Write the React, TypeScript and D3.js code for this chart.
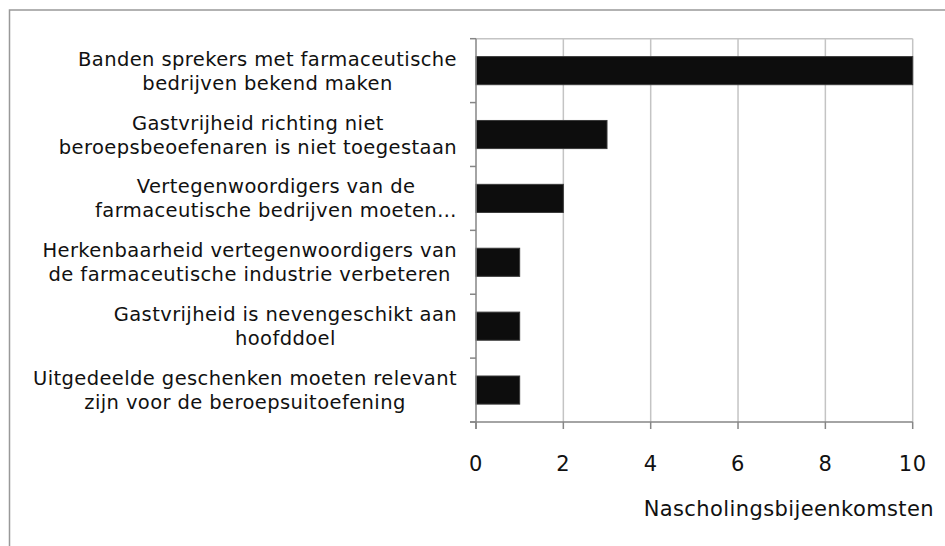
import React, { useEffect, useRef } from "react";
import * as d3 from "d3";

const categories: string[][] = [
  ["Banden sprekers met farmaceutische", "bedrijven bekend maken"],
  ["Gastvrijheid richting niet", "beroepsbeoefenaren is niet toegestaan"],
  ["Vertegenwoordigers van de", "farmaceutische bedrijven moeten…"],
  ["Herkenbaarheid vertegenwoordigers van", "de farmaceutische industrie verbeteren"],
  ["Gastvrijheid is nevengeschikt aan", "hoofddoel"],
  ["Uitgedeelde geschenken moeten relevant", "zijn voor de beroepsuitoefening"],
];
const values: number[] = [10, 3, 2, 1, 1, 1];
const xTicks: number[] = [0, 2, 4, 6, 8, 10];
const xTitle = "Nascholingsbijeenkomsten";

const W = 945;
const H = 546;
const FONT = "'DejaVu Sans', Verdana, sans-serif";

export default function App() {
  const ref = useRef<SVGSVGElement>(null);

  useEffect(() => {
    const svg = d3.select(ref.current);
    svg.selectAll("*").remove();

    const left = 476, right = 912.7, top = 38.7, bottom = 422;
    const x = d3.scaleLinear().domain([0, 10]).range([left, right]);
    const keys = categories.map((_, i) => String(i));
    const y = d3.scaleBand<string>().domain(keys).range([top, bottom]).paddingInner(0.56).paddingOuter(0.28);
    const step = y.step();

    // outer border
    svg.append("rect").attr("x", 9.5).attr("y", 10).attr("width", 1200).attr("height", 1200)
      .attr("fill", "white").attr("stroke", "#999").attr("stroke-width", 1.5);

    // top border of plot area
    svg.append("line").attr("x1", left).attr("x2", right).attr("y1", top).attr("y2", top)
      .attr("stroke", "#c4c4c4").attr("stroke-width", 1.5);

    // gridlines
    svg.selectAll(".grid").data(xTicks.filter(t => t > 0)).enter().append("line")
      .attr("x1", d => x(d)).attr("x2", d => x(d)).attr("y1", top).attr("y2", bottom)
      .attr("stroke", "#c4c4c4").attr("stroke-width", 1.5);

    // bars
    svg.selectAll(".bar").data(values).enter().append("rect")
      .attr("x", x(0)).attr("y", (_, i) => y(keys[i])!)
      .attr("width", d => x(d) - x(0)).attr("height", y.bandwidth())
      .attr("fill", "#0d0d0d").attr("stroke", "#3a3a3a").attr("stroke-width", 1);

    // axes
    const axisColor = "#868686";
    svg.append("line").attr("x1", left).attr("x2", left).attr("y1", top).attr("y2", bottom + 7)
      .attr("stroke", axisColor).attr("stroke-width", 1.5);
    svg.append("line").attr("x1", left - 6).attr("x2", right).attr("y1", bottom).attr("y2", bottom)
      .attr("stroke", axisColor).attr("stroke-width", 1.5);
    const bounds = d3.range(categories.length + 1).map(i => top + i * step);
    svg.selectAll(".ytick").data(bounds).enter().append("line")
      .attr("x1", left - 6).attr("x2", left).attr("y1", d => d).attr("y2", d => d)
      .attr("stroke", axisColor).attr("stroke-width", 1.5);
    svg.selectAll(".xtick").data(xTicks).enter().append("line")
      .attr("x1", d => x(d)).attr("x2", d => x(d)).attr("y1", bottom).attr("y2", bottom + 7)
      .attr("stroke", axisColor).attr("stroke-width", 1.5);

    // x tick labels
    svg.selectAll(".xlab").data(xTicks).enter().append("text")
      .attr("x", d => x(d)).attr("y", 470.5).attr("text-anchor", "middle")
      .attr("font-family", FONT).attr("font-size", 21).attr("fill", "#111")
      .attr("letter-spacing", 0.6)
      .text(d => String(d));

    // x title
    svg.append("text").attr("x", 934).attr("y", 516).attr("text-anchor", "end")
      .attr("font-family", FONT).attr("font-size", 21).attr("fill", "#111")
      .attr("letter-spacing", 0.4).text(xTitle);

    // category labels
    const labelRight = 457;
    const lineH = 24;
    categories.forEach((lines, i) => {
      const cy = y(keys[i])! + y.bandwidth() / 2;
      const g = svg.append("g");
      const texts = lines.map((ln, j) =>
        g.append("text").attr("font-family", FONT).attr("font-size", 19.5).attr("fill", "#111")
          .attr("letter-spacing", 0.4)
          .attr("text-anchor", "middle")
          .attr("y", cy - ((lines.length - 1) * lineH) / 2 + 7 + j * lineH)
          .text(ln)
      );
      const maxW = d3.max(texts, t => (t.node() as SVGTextElement).getComputedTextLength()) || 0;
      texts.forEach(t => t.attr("x", labelRight - maxW / 2));
    });
  }, []);

  return (
    <svg ref={ref} width={W} height={H}
      style={{ position: "absolute", left: 0, top: 0, background: "white" }} />
  );
}
